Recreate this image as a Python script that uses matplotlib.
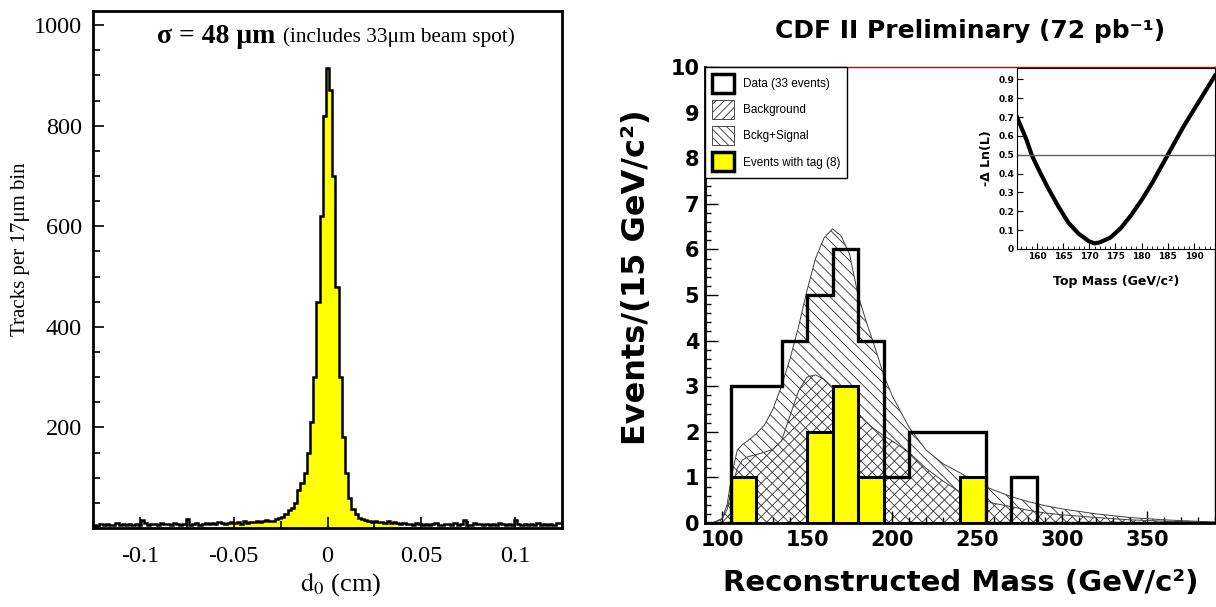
import numpy as np
import matplotlib
matplotlib.use("Agg")
import matplotlib.pyplot as plt
from matplotlib.patches import Patch
from matplotlib.ticker import MultipleLocator, FuncFormatter

plt.rcParams["axes.unicode_minus"] = False
plt.rcParams["mathtext.fontset"] = "stix"
plt.rcParams["hatch.linewidth"] = 0.6
plt.rcParams["hatch.color"] = "#303030"

# ── left panel: d0 distribution, 17 um bins ───────────────────────────────────
d0_edges = np.linspace(-0.12495, 0.12495, 148)
d0_left_tail = [6, 4, 7, 5, 8, 6, 5, 9, 6, 7,
                5, 8, 6, 7, 5, 16, 9, 6, 8, 7,
                6, 10, 7, 8, 6, 9, 7, 5, 8, 17,
                6, 7, 9, 6, 8, 10, 7, 9, 8, 11,
                9, 7, 10, 12, 9, 11, 8, 13, 10, 12,
                11, 14, 12, 13, 15, 13, 14]
d0_core = [17, 20, 22, 28, 35, 40, 50, 75, 90, 110,
           150, 210, 300, 450, 620, 820, 915,
           870, 700, 480, 300, 180, 110, 60, 38, 28, 20,
           17, 15, 14, 12, 13, 11]
d0_right_tail = [12, 10, 13, 9, 11, 10, 8, 9, 7, 8,
                 6, 9, 7, 5, 8, 6, 7, 9, 5, 6,
                 8, 7, 5, 9, 6, 7, 16, 5, 6, 9,
                 7, 8, 6, 8, 5, 7, 6, 9, 7, 5,
                 8, 6, 15, 7, 5, 8, 6, 7, 5, 9,
                 6, 8, 5, 7, 6, 9, 10]
d0_counts = np.array(d0_left_tail + d0_core + d0_right_tail)
yellow_first, yellow_last = 42, 94   # bins filled in yellow

# ── right panel: reconstructed top mass ──────────────────────────────────────
mass_edges = np.arange(90, 391, 15)
data_counts = [0, 3, 3, 4, 5, 6, 4, 1, 2, 2, 2, 0, 1, 0, 0, 0, 0, 0, 0, 0]
tag_counts = [0, 1, 0, 0, 2, 3, 1, 0, 0, 0, 1, 0, 0, 0, 0, 0, 0, 0, 0, 0]

curve_x = [90, 95, 100, 103, 106, 109, 112, 115, 120, 125, 130, 135, 140, 145,
           150, 155, 160, 165, 170, 175, 180, 185, 190, 195, 200, 210, 220, 230,
           240, 250, 260, 270, 280, 290, 300, 320, 340, 360, 390]
bkg_y = [0, 0.01, 0.08, 0.3, 0.8, 1.2, 1.38, 1.45, 1.5, 1.55, 1.62, 1.8, 2.35, 2.9,
         3.2, 3.25, 3.15, 2.98, 2.78, 2.58, 2.4, 2.2, 2.05, 1.92, 1.8, 1.55, 1.2, 0.92,
         0.68, 0.55, 0.43, 0.36, 0.28, 0.22, 0.18, 0.12, 0.07, 0.04, 0.01]
sig_y = [0, 0.01, 0.1, 0.4, 1.1, 1.6, 1.72, 1.8, 1.95, 2.15, 2.5, 3.0, 3.6, 4.3,
         5.1, 5.8, 6.25, 6.45, 6.3, 5.9, 5.0, 4.4, 3.85, 3.25, 2.8, 2.1, 1.6, 1.3,
         1.1, 0.88, 0.72, 0.58, 0.47, 0.38, 0.31, 0.2, 0.12, 0.07, 0.02]

lnl_mass = [156.2, 158, 159, 160, 162, 164, 166, 168, 170, 171, 172, 174, 176,
            178, 180, 182, 184, 185, 186, 188, 190, 192, 194]
lnl_val = [0.70, 0.58, 0.50, 0.44, 0.33, 0.23, 0.14, 0.08, 0.04, 0.03, 0.035,
           0.06, 0.11, 0.18, 0.26, 0.35, 0.45, 0.50, 0.55, 0.65, 0.74, 0.83, 0.92]

fig = plt.figure(figsize=(12.16, 6.07), dpi=100)

# ── left ─────────────────────────────────────────────────────────────────────
serif = "Liberation Serif"
ax1 = fig.add_axes([93 / 1216, 1 - 528 / 607, 469 / 1216, 517 / 607])
ax1.stairs(d0_counts[yellow_first:yellow_last + 1],
           d0_edges[yellow_first:yellow_last + 2],
           fill=True, color="#ffff00", zorder=1)
ax1.stairs(d0_counts, d0_edges, color="black", lw=1.8, zorder=2)
ax1.set_xlim(-0.125, 0.125)
ax1.set_ylim(0, 1028)
ax1.xaxis.set_major_locator(MultipleLocator(0.05))
ax1.xaxis.set_minor_locator(MultipleLocator(0.025))
ax1.set_yticks([200, 400, 600, 800, 1000])
ax1.yaxis.set_minor_locator(MultipleLocator(50))
ax1.xaxis.set_major_formatter(FuncFormatter(lambda v, p: f"{v:g}"))
ax1.tick_params(which="both", direction="in", labelsize=17.5, width=1.2)
ax1.tick_params(which="major", length=8)
ax1.tick_params(which="minor", length=5)
ax1.tick_params(axis="x", pad=13)
ax1.tick_params(axis="y", pad=8)
for lab in ax1.get_xticklabels() + ax1.get_yticklabels():
    lab.set_family(serif)
for s in ax1.spines.values():
    s.set_linewidth(2)
ax1.text(0.388, 0.95, "σ = 48 μm", transform=ax1.transAxes, ha="right",
         va="center", fontsize=20, weight="bold", family=serif)
ax1.text(0.405, 0.95, "(includes 33μm beam spot)", transform=ax1.transAxes,
         ha="left", va="center", fontsize=15.3, family=serif)
ax1.set_ylabel("Tracks per 17μm bin", fontsize=15, family=serif)
ax1.yaxis.set_label_coords(-0.135, 0.54)
ax1.set_xlabel(r"$\mathrm{d}_0$ (cm)", fontsize=19, family=serif)
ax1.xaxis.set_label_coords(0.529, -0.082)

# ── right ────────────────────────────────────────────────────────────────────
sans = "DejaVu Sans"
ax2 = fig.add_axes([705 / 1216, 1 - 523 / 607, 510 / 1216, 456 / 607])
ax2.fill_between(curve_x, sig_y, facecolor="none", edgecolor="#303030",
                 hatch="\\\\\\", linewidth=0, zorder=1)
ax2.fill_between(curve_x, bkg_y, facecolor="none", edgecolor="#303030",
                 hatch="///", linewidth=0, zorder=1)
ax2.plot(curve_x, sig_y, color="#404040", lw=0.7, zorder=2)
ax2.plot(curve_x, bkg_y, color="#404040", lw=0.7, zorder=2)
ax2.bar(mass_edges[:-1], tag_counts, width=15, align="edge", color="#ffff00",
        edgecolor="black", lw=2.2, zorder=3)
ax2.stairs(data_counts, mass_edges, color="black", lw=2.4, zorder=4)
ax2.set_xlim(90, 390)
ax2.set_ylim(0, 10)
ax2.xaxis.set_major_locator(MultipleLocator(50))
ax2.xaxis.set_minor_locator(MultipleLocator(10))
ax2.yaxis.set_major_locator(MultipleLocator(1))
ax2.yaxis.set_minor_locator(MultipleLocator(0.2))
ax2.tick_params(which="both", direction="in", labelsize=15, width=1)
ax2.tick_params(which="major", length=9)
ax2.tick_params(which="minor", length=4.5)
ax2.tick_params(axis="x", pad=5)
ax2.tick_params(axis="y", pad=4)
for lab in ax2.get_xticklabels() + ax2.get_yticklabels():
    lab.set_family(sans)
    lab.set_weight("bold")
ax2.spines["left"].set_linewidth(2)
ax2.spines["bottom"].set_linewidth(2)
ax2.spines["top"].set_color("#b01010")
ax2.spines["top"].set_linewidth(1)
ax2.spines["right"].set_linewidth(1)

handles = [
    Patch(facecolor="white", edgecolor="black", lw=2.5),
    Patch(facecolor="white", edgecolor="#303030", hatch="////", lw=0.6),
    Patch(facecolor="white", edgecolor="#303030", hatch="\\\\\\\\", lw=0.6),
    Patch(facecolor="#ffff00", edgecolor="black", lw=2.5),
]
labels = ["Data (33 events)", "Background", "Bckg+Signal", "Events with tag (8)"]
leg = ax2.legend(handles, labels, loc="upper left", bbox_to_anchor=(0, 1),
                 borderaxespad=0, fancybox=False, edgecolor="black",
                 framealpha=1, prop={"family": "Liberation Sans", "size": 8.5},
                 handlelength=1.85, handleheight=2.1, handletextpad=0.75,
                 labelspacing=0.6, borderpad=0.6)
leg.get_frame().set_linewidth(1)

fig.text(970 / 1216, 1 - 31 / 607, "CDF II Preliminary (72 pb⁻¹)",
         ha="center", va="center", fontsize=18, weight="bold", family=sans)
fig.text(636 / 1216, 1 - 277 / 607, "Events/(15 GeV/c²)", rotation=90,
         ha="center", va="center", fontsize=23, weight="bold", family=sans)
fig.text(961 / 1216, 1 - 583 / 607, "Reconstructed Mass (GeV/c²)",
         ha="center", va="center", fontsize=21, weight="bold", family=sans)

# ── inset: likelihood ────────────────────────────────────────────────────────
ax3 = fig.add_axes([1017 / 1216, 1 - 249 / 607, 198 / 1216, 181 / 607])
ax3.plot(lnl_mass, lnl_val, color="black", lw=3)
ax3.axhline(0.5, color="#606060", lw=1)
ax3.set_xlim(156.2, 194)
ax3.set_ylim(0, 0.96)
ax3.xaxis.set_major_locator(MultipleLocator(5))
ax3.xaxis.set_minor_locator(MultipleLocator(1))
ax3.yaxis.set_major_locator(MultipleLocator(0.1))
ax3.yaxis.set_major_formatter(FuncFormatter(lambda v, p: f"{v:.1f}" if v > 0.01 else "0"))
ax3.tick_params(which="both", direction="in", labelsize=6.5, pad=2)
ax3.tick_params(which="major", length=4)
ax3.tick_params(which="minor", length=2)
for lab in ax3.get_xticklabels() + ax3.get_yticklabels():
    lab.set_family(sans)
    lab.set_weight("bold")
ax3.set_xlabel("Top Mass (GeV/c²)", fontsize=9, weight="bold", family=sans,
               labelpad=10)
ax3.set_ylabel("-Δ Ln(L)", fontsize=9, weight="bold", family=sans, labelpad=4)

fig.savefig("out.png", dpi=100)
